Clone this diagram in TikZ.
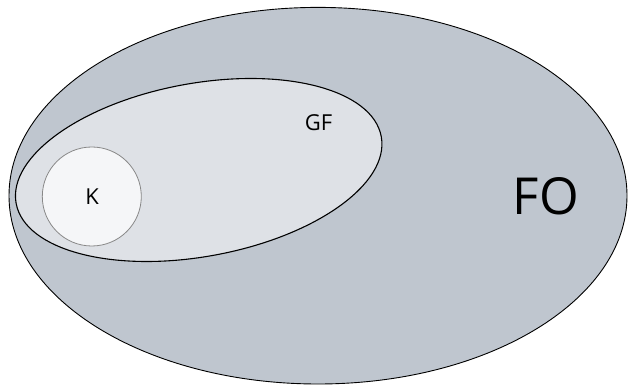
\documentclass[tikz,border=0pt]{standalone}
\usepackage{fontspec}
\setmainfont{Open Sans}
\definecolor{foFill}{RGB}{191,198,207}
\definecolor{gfFill}{RGB}{222,225,230}
\definecolor{kFill}{RGB}{245,246,248}
\definecolor{kEdge}{RGB}{136,136,136}
\begin{document}
\begin{tikzpicture}[x=1pt,y=1pt,
  setlabel/.style={inner sep=0pt, text=black}]
\useasboundingbox (0,0) rectangle (628,385);
% FO: outer class
\draw[fill=foFill, draw=black, line width=0.9pt] (318,189.3) ellipse [x radius=309, y radius=188.3];
% GF: tilted ellipse inside FO
\draw[fill=gfFill, draw=black, line width=1.1pt, rotate around={10.35:(198.7,215)}] (198.7,215) ellipse [x radius=185.6, y radius=86.6];
% K: circle inside GF
\draw[fill=kFill, draw=kEdge, line width=0.8pt] (91.8,188.5) circle [radius=49.5];
\node[setlabel, font=\fontsize{51}{51}\selectfont] (fo) at (546,188.3) {FO};
\node[setlabel, font=\fontsize{22}{22}\selectfont] (gf) at (318.5,262) {GF};
\node[setlabel, font=\fontsize{22}{22}\selectfont] (k) at (92,188) {K};
\end{tikzpicture}
\end{document}
